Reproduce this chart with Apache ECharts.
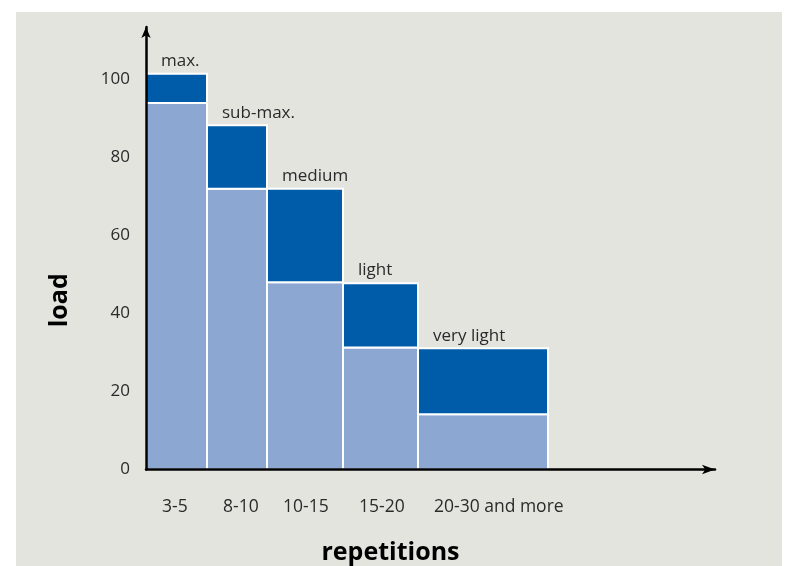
<!DOCTYPE html>
<html>
<head>
<meta charset="utf-8">
<style>
  html, body { margin: 0; padding: 0; background: #ffffff; }
  #chart { width: 789px; height: 566px; }
</style>
<script src="https://cdn.jsdelivr.net/npm/echarts@6/dist/echarts.min.js"></script>
</head>
<body>
<div id="chart"></div>
<script>
// ---- data ----
const repLabels = ['3-5', '8-10', '10-15', '15-20', '20-30 and more'];
const zoneNames = ['max.', 'sub-max.', 'medium', 'light', 'very light'];
// column boundaries along the repetitions axis (relative width units)
const barEdges = [0, 61, 121, 197, 272, 402];
// load range of each zone: lower (light) part up to lightTop, dark part up to darkTop
const lightTop = [94, 72, 48, 31.3, 14.2];
const darkTop = [101.5, 88.3, 72, 47.8, 31.1];
const yTicks = [0, 20, 40, 60, 80, 100];

const FONT = "'Open Sans', 'Noto Sans', sans-serif";

const lightData = repLabels.map((r, i) => [barEdges[i], barEdges[i + 1], 0, lightTop[i]]);
const darkData = repLabels.map((r, i) => [barEdges[i], barEdges[i + 1], lightTop[i], darkTop[i]]);

function makeRender(fill, withLabel) {
  return function (params, api) {
    const x0 = api.value(0), x1 = api.value(1), y0 = api.value(2), y1 = api.value(3);
    const p0 = api.coord([x0, y1]);
    const p1 = api.coord([x1, y0]);
    const rect = {
      type: 'rect',
      shape: { x: p0[0], y: p0[1], width: p1[0] - p0[0], height: p1[1] - p0[1] },
      style: { fill: fill, stroke: '#ffffff', lineWidth: 2 }
    };
    if (!withLabel) return rect;
    return {
      type: 'group',
      children: [
        rect,
        {
          type: 'text',
          x: p0[0] + 15,
          y: p0[1] - 4,
          style: {
            text: zoneNames[params.dataIndex],
            fill: '#2a2a2a',
            font: '17px ' + FONT,
            textAlign: 'left',
            textVerticalAlign: 'bottom'
          }
        }
      ]
    };
  };
}

const chart = echarts.init(document.getElementById('chart'), null, { renderer: 'canvas' });
chart.setOption({
  backgroundColor: '#ffffff',
  animation: false,
  textStyle: { fontFamily: FONT },
  graphic: {
    elements: [{
      type: 'rect', left: 16, top: 12, z: -10, silent: true,
      shape: { width: 766, height: 560 },
      style: { fill: '#e4e4df' }
    }]
  },
  grid: { left: 146, right: 74, top: 27, bottom: 96.5, containLabel: false, outerBoundsMode: 'none' },
  xAxis: {
    type: 'value',
    min: 0,
    max: 569,
    z: 5,
    name: 'repetitions',
    nameLocation: 'middle',
    nameGap: 71,
    nameTextStyle: { fontSize: 25, fontWeight: 'bold', color: '#000', fontFamily: FONT, padding: [0, 80, 0, 0] },
    axisLine: { show: true, symbol: ['none', 'arrow'], symbolSize: [7, 13], lineStyle: { color: '#000', width: 2.5 } },
    axisTick: { show: false },
    splitLine: { show: false },
    axisLabel: {
      customValues: barEdges.slice(0, 5),
      formatter: function (v) { return repLabels[barEdges.indexOf(v)]; },
      align: 'left',
      padding: [0, 0, 0, 16],
      margin: 29,
      fontSize: 17.5,
      color: '#2a2a2a',
      fontFamily: FONT
    }
  },
  yAxis: {
    type: 'value',
    min: 0,
    max: 113.5,
    interval: 20,
    z: 5,
    name: 'load',
    nameLocation: 'middle',
    nameRotate: 90,
    nameGap: 74,
    nameTextStyle: { fontSize: 25, fontWeight: 'bold', color: '#000', fontFamily: FONT, padding: [0, 104, 0, 0] },
    axisLine: { show: true, symbol: ['none', 'arrow'], symbolSize: [7, 11], lineStyle: { color: '#000', width: 2.5 } },
    axisTick: { show: false },
    splitLine: { show: false },
    axisLabel: {
      showMaxLabel: false,
      formatter: function (v) { return yTicks.indexOf(v) >= 0 ? String(v) : ''; },
      margin: 16,
      fontSize: 17,
      color: '#2a2a2a',
      fontFamily: FONT
    }
  },
  series: [
    {
      type: 'custom',
      name: 'lower',
      renderItem: makeRender('#8ba7d2', false),
      encode: { x: [0, 1], y: [2, 3] },
      data: lightData
    },
    {
      type: 'custom',
      name: 'upper',
      renderItem: makeRender('#005ca8', true),
      encode: { x: [0, 1], y: [2, 3] },
      data: darkData
    }
  ]
});
</script>
</body>
</html>
